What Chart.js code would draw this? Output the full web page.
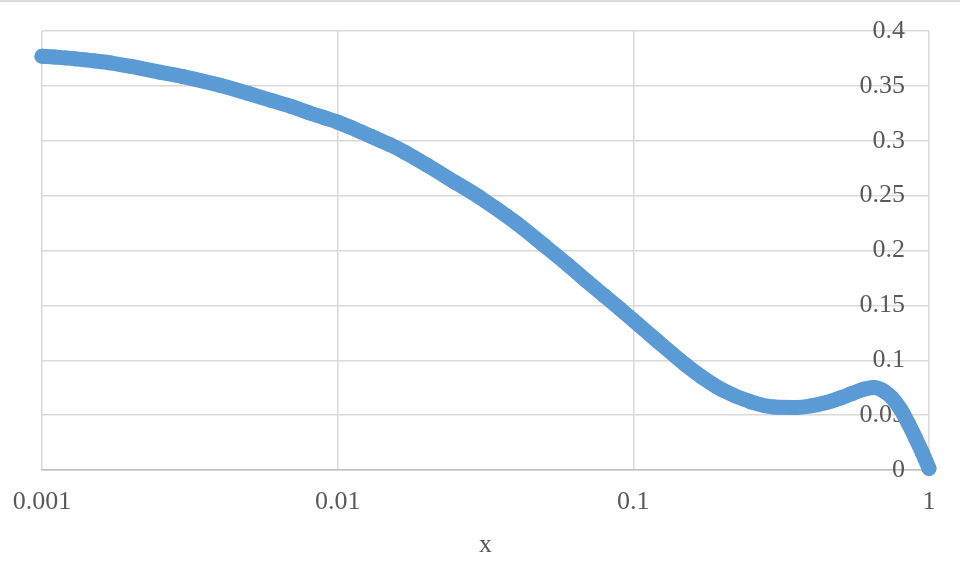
<!DOCTYPE html>
<html>
<head>
<meta charset="utf-8">
<script src="https://cdn.jsdelivr.net/npm/chart.js@4"></script>
<style>
  html, body { margin: 0; padding: 0; background: #fff; }
  #wrap { width: 960px; height: 566px; position: relative; }
</style>
</head>
<body>
<div id="wrap"><canvas id="chart" width="960" height="566"></canvas></div>
<script>
// values
const xValues = [
    0.001, 0.0011, 0.0012, 0.0013, 0.0014, 0.0015, 0.0017, 0.002, 0.0025, 0.003,
    0.004, 0.005, 0.006, 0.007, 0.008, 0.009,
    0.01, 0.011, 0.012, 0.013, 0.014, 0.015, 0.017, 0.02, 0.025, 0.03,
    0.04, 0.05, 0.06, 0.07, 0.08, 0.09,
    0.1, 0.12, 0.15, 0.17, 0.2, 0.25, 0.3, 0.35, 0.4, 0.45,
    0.5, 0.55, 0.6, 0.65, 0.7, 0.75, 0.8, 0.85, 0.9, 0.95, 1
];
const yValues = [
    0.377, 0.3763, 0.3755, 0.3746, 0.3737, 0.3728, 0.371, 0.3677, 0.3625, 0.3585,
    0.3505, 0.3430, 0.3365, 0.3310, 0.3255, 0.3210,
    0.317, 0.3125, 0.308, 0.304, 0.300, 0.2965, 0.289, 0.278, 0.262, 0.249,
    0.2255, 0.2045, 0.187, 0.1715, 0.1585, 0.147,
    0.1365, 0.118, 0.096, 0.085, 0.073, 0.062, 0.0573, 0.057, 0.0585, 0.0615,
    0.0655, 0.0698, 0.0735, 0.0752, 0.0723, 0.0657, 0.0557, 0.0428, 0.0292, 0.0156, 0.0015
];
const xTicks = [0.001, 0.01, 0.1, 1];
const xTickLabels = ['0.001', '0.01', '0.1', '1'];
const yTicks = [0, 0.05, 0.1, 0.15, 0.2, 0.25, 0.3, 0.35, 0.4];
const yTickLabels = ['0', '0.05', '0.1', '0.15', '0.2', '0.25', '0.3', '0.35', '0.4'];

const blue = '#5b9bd5';
const grid = '#d9d9d9';
const textColor = '#595959';
const font = { family: '"Liberation Serif", serif', size: 26 };

const points = xValues.map((x, i) => ({ x: x, y: yValues[i] }));

// thin frame line at the very top
const topLine = {
    id: 'topLine',
    beforeDraw(chart) {
        const ctx = chart.ctx;
        ctx.save();
        ctx.strokeStyle = grid;
        ctx.lineWidth = 2;
        ctx.beginPath();
        ctx.moveTo(0, 1);
        ctx.lineTo(chart.width, 1);
        ctx.stroke();
        ctx.restore();
    }
};

function noPad(axis) {
    axis.paddingTop = 0;
    axis.paddingBottom = 0;
    axis.paddingLeft = 0;
    axis.paddingRight = 0;
}

new Chart(document.getElementById('chart'), {
    type: 'scatter',
    data: {
        datasets: [{
            data: points,
            showLine: true,
            clip: false,
            borderColor: blue,
            borderWidth: 15,
            borderCapStyle: 'round',
            borderJoinStyle: 'round',
            cubicInterpolationMode: 'monotone',
            backgroundColor: blue,
            pointRadius: 7.5,
            pointBorderWidth: 0,
            pointHoverRadius: 7.5
        }]
    },
    options: {
        responsive: false,
        animation: false,
        layout: { padding: { top: 31, left: 42, right: 0, bottom: 0 } },
        plugins: { legend: { display: false }, tooltip: { enabled: false } },
        scales: {
            x: {
                type: 'logarithmic',
                position: 'bottom',
                min: 0.001,
                max: 1,
                afterBuildTicks: axis => { axis.ticks = xTicks.map(v => ({ value: v })); },
                afterFit: axis => { axis.height = 96; noPad(axis); },
                grid: { color: grid, lineWidth: 1.5, drawTicks: false },
                border: { color: '#bfbfbf', width: 1.5 },
                ticks: {
                    padding: 17,
                    color: textColor,
                    font: font,
                    maxRotation: 0,
                    autoSkip: false,
                    callback: (v, i) => xTickLabels[i]
                },
                title: {
                    display: true,
                    text: 'x',
                    color: textColor,
                    font: font,
                    padding: { top: 0, bottom: 5 }
                }
            },
            y: {
                position: 'right',
                min: 0,
                max: 0.4,
                afterBuildTicks: axis => { axis.ticks = yTicks.map(v => ({ value: v })); },
                afterFit: axis => { axis.width = 31; noPad(axis); },
                grid: { color: grid, lineWidth: 1.5, drawTicks: false },
                border: { display: false },
                ticks: { display: false }
            },
            yLabels: {
                position: 'right',
                min: 0,
                max: 0.4,
                z: 1,
                afterBuildTicks: axis => { axis.ticks = yTicks.map(v => ({ value: v })); },
                afterFit: axis => { axis.width = 0; noPad(axis); },
                grid: { display: false, drawTicks: false },
                border: { display: false },
                ticks: {
                    mirror: true,
                    padding: -55,
                    color: textColor,
                    font: font,
                    callback: (v, i) => yTickLabels[i]
                }
            }
        }
    },
    plugins: [topLine]
});
</script>
</body>
</html>
